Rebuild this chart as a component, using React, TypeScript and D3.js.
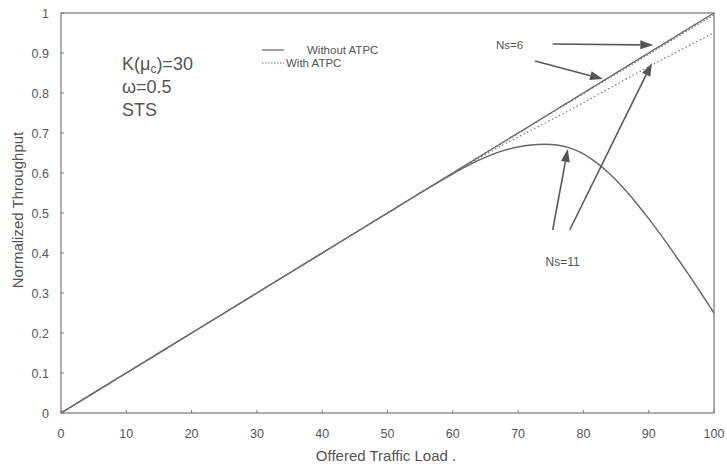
import React from "react";
import * as d3 from "d3";

// ---- data ----
const loads = [0, 10, 20, 30, 40, 50, 55, 60, 62, 64, 66, 68, 70, 72, 74, 76, 78, 80, 82, 84, 86, 88, 90, 92, 94, 96, 98, 100];
const ns6Without = [0, 0.1, 0.2, 0.3, 0.4, 0.5, 0.55, 0.6, 0.62, 0.64, 0.66, 0.68, 0.7, 0.72, 0.74, 0.76, 0.78, 0.8, 0.82, 0.84, 0.86, 0.88, 0.9, 0.92, 0.94, 0.96, 0.98, 1.0];
const ns6With = [0, 0.1, 0.2, 0.3, 0.4, 0.5, 0.55, 0.6, 0.62, 0.64, 0.66, 0.679, 0.699, 0.719, 0.739, 0.759, 0.778, 0.798, 0.818, 0.838, 0.857, 0.877, 0.897, 0.917, 0.936, 0.956, 0.976, 0.995];
const ns11Without = [0, 0.1, 0.2, 0.3, 0.4, 0.5, 0.55, 0.598, 0.616, 0.632, 0.646, 0.657, 0.665, 0.67, 0.672, 0.67, 0.662, 0.648, 0.626, 0.598, 0.565, 0.527, 0.486, 0.442, 0.396, 0.349, 0.3, 0.25];
const ns11With = [0, 0.1, 0.2, 0.3, 0.4, 0.5, 0.55, 0.6, 0.619, 0.637, 0.655, 0.673, 0.69, 0.707, 0.724, 0.741, 0.758, 0.776, 0.794, 0.812, 0.83, 0.848, 0.866, 0.883, 0.9, 0.917, 0.934, 0.951];

const xTicks = [0, 10, 20, 30, 40, 50, 60, 70, 80, 90, 100];
const yTicks = [0, 0.1, 0.2, 0.3, 0.4, 0.5, 0.6, 0.7, 0.8, 0.9, 1];
const yTickLabels = ["0", "0.1", "0.2", "0.3", "0.4", "0.5", "0.6", "0.7", "0.8", "0.9", "1"];

// annotation arrows: [fromX, fromY, toX, toY] in data units
const arrowsNs6 = [
  [75.3, 0.9225, 90.7, 0.92],
  [72.6, 0.88, 83.0, 0.835],
];
const arrowsNs11 = [
  [75.3, 0.4575, 77.6, 0.66],
  [77.9, 0.4575, 90.5, 0.875],
];
const labelNs6 = { text: "Ns=6", x: 66.6, y: 0.91 };
const labelNs11 = { text: "Ns=11", x: 74.2, y: 0.367 };

const W = 727;
const H = 468;
const M = { left: 61, right: 714, top: 13, bottom: 413 };

const FONT = "'Liberation Sans', Arial, Helvetica, sans-serif";
const TEXT = "#555";
const LINE = "#666";

export default function App() {
  const x = d3.scaleLinear().domain([0, 100]).range([M.left, M.right]);
  const y = d3.scaleLinear().domain([0, 1]).range([M.bottom, M.top]);

  const mk = (vals: number[]) =>
    d3
      .line<number>()
      .x((_, i) => x(loads[i]))
      .y((d) => y(d))
      .curve(d3.curveMonotoneX)(vals) || "";

  const arrow = (a: number[], key: string) => {
    const x1 = x(a[0]), y1 = y(a[1]), x2 = x(a[2]), y2 = y(a[3]);
    const ang = Math.atan2(y2 - y1, x2 - x1);
    const L = 13, Wd = 4.5;
    const bx = x2 - L * Math.cos(ang), by = y2 - L * Math.sin(ang);
    const px = -Math.sin(ang), py = Math.cos(ang);
    const pts = `${x2},${y2} ${bx + px * Wd},${by + py * Wd} ${bx - px * Wd},${by - py * Wd}`;
    return (
      <g key={key}>
        <line x1={x1} y1={y1} x2={bx} y2={by} stroke="#5a5a5a" strokeWidth={1.6} />
        <polygon points={pts} fill="#555" />
      </g>
    );
  };

  return (
    <svg
      width={W}
      height={H}
      style={{ position: "absolute", left: 0, top: 0, background: "#fff" }}
      fontFamily={FONT}
    >
      <rect x={0} y={0} width={W} height={H} fill="#fff" />
      {/* frame */}
      <rect
        x={M.left}
        y={M.top}
        width={M.right - M.left}
        height={M.bottom - M.top}
        fill="none"
        stroke="#777"
        strokeWidth={1.2}
      />
      {/* ticks */}
      {xTicks.map((t) => (
        <g key={"xt" + t}>
          <line x1={x(t)} x2={x(t)} y1={M.bottom} y2={M.bottom - 3} stroke="#777" />
          <text x={x(t)} y={438} textAnchor="middle" fontSize={12.5} fill={TEXT}>
            {t}
          </text>
        </g>
      ))}
      {yTicks.map((t, i) => (
        <g key={"yt" + t}>
          <line x1={M.left} x2={M.left + 3} y1={y(t)} y2={y(t)} stroke="#777" />
          <text x={49} y={y(t) + 4.5} textAnchor="end" fontSize={12.5} fill={TEXT}>
            {yTickLabels[i]}
          </text>
        </g>
      ))}
      {/* axis titles */}
      <text x={386} y={461} textAnchor="middle" fontSize={15} fill={TEXT}>
        Offered Traffic Load .
      </text>
      <text
        transform={`translate(23,${210}) rotate(-90)`}
        textAnchor="middle"
        fontSize={15}
        fill={TEXT}
      >
        Normalized Throughput
      </text>

      {/* curves */}
      <path d={mk(ns11Without)} fill="none" stroke={LINE} strokeWidth={1.4} />
      <path d={mk(ns6Without)} fill="none" stroke={LINE} strokeWidth={1.4} />
      <path d={mk(ns6With)} fill="none" stroke="#777" strokeWidth={1.2} strokeDasharray="1.5,2" />
      <path d={mk(ns11With)} fill="none" stroke="#777" strokeWidth={1.2} strokeDasharray="1.5,2.5" />

      {/* parameter text */}
      <text x={122} y={70} fontSize={18} fill={TEXT}>
        K(μ<tspan fontSize={12} dy={3}>c</tspan>
        <tspan dy={-3}>)=30</tspan>
      </text>
      <text x={122} y={93} fontSize={18} fill={TEXT}>
        ω=0.5
      </text>
      <text x={122} y={116} fontSize={18} fill={TEXT}>
        STS
      </text>

      {/* legend */}
      <line x1={262} x2={284} y1={50} y2={50} stroke={LINE} strokeWidth={1.2} />
      <text x={307} y={54} fontSize={11.5} fill={TEXT}>
        Without ATPC
      </text>
      <line x1={262} x2={284} y1={63} y2={63} stroke="#777" strokeWidth={1.2} strokeDasharray="1.5,1.5" />
      <text x={286} y={67} fontSize={11.5} fill={TEXT}>
        With ATPC
      </text>

      {/* annotations */}
      <text x={x(labelNs6.x)} y={y(labelNs6.y)} fontSize={11.5} fill={TEXT}>
        {labelNs6.text}
      </text>
      <text x={x(labelNs11.x)} y={y(labelNs11.y)} fontSize={12} fill={TEXT}>
        {labelNs11.text}
      </text>
      {arrowsNs6.map((a, i) => arrow(a, "a6" + i))}
      {arrowsNs11.map((a, i) => arrow(a, "a11" + i))}
    </svg>
  );
}
